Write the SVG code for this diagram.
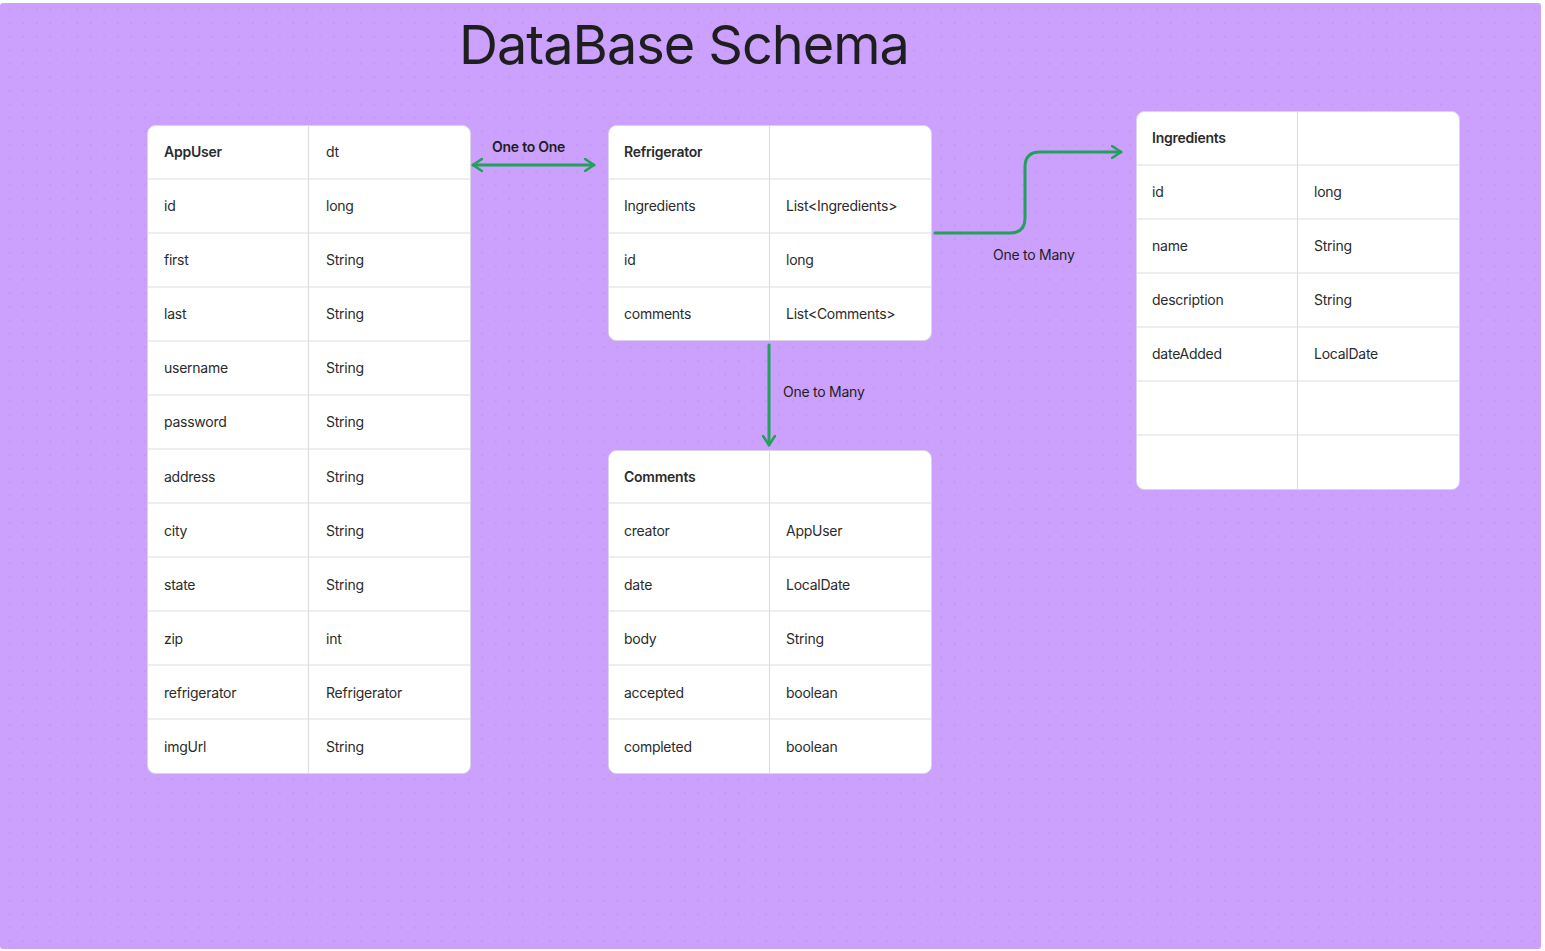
<svg xmlns="http://www.w3.org/2000/svg" width="1545" height="951" viewBox="0 0 1545 951">
<style>
text{font-family:Inter,"Noto Sans","Liberation Sans",sans-serif;fill:#2b2b2b;font-size:14px;letter-spacing:-0.25px}
.h{font-weight:600}
.t{font-size:54px;fill:#1e1e1e;letter-spacing:-1px}
.lbl{font-size:14px;fill:#1e1e1e}
.card{fill:#fff;stroke:#dcd3e8;stroke-width:1}
.sep{stroke:#dedede;stroke-width:1.2}
.con{fill:none;stroke:#23a15c;stroke-width:3;stroke-linecap:round;stroke-linejoin:round}
</style>
<defs>
<pattern id="dots" width="13.5" height="13.5" patternUnits="userSpaceOnUse" x="3" y="3">
<circle cx="6.75" cy="6.75" r="0.75" fill="#b28ade"/>
</pattern>
<marker id="arr" viewBox="0 0 12 14" refX="10" refY="7" markerWidth="12" markerHeight="14" markerUnits="userSpaceOnUse" orient="auto-start-reverse">
<path d="M1,1 L10,7 L1,13" fill="none" stroke="#23a15c" stroke-width="2.6" stroke-linecap="round" stroke-linejoin="round"/>
</marker>
</defs>
<rect width="1545" height="951" fill="#ffffff"/>
<rect x="0" y="3" width="1541" height="946" rx="3" fill="#cba1fd"/>
<rect x="0" y="3" width="1541" height="946" rx="3" fill="url(#dots)"/>
<text class="t" x="459" y="64">DataBase Schema</text>

<g id="connectors">
<line class="con" x1="473" y1="165" x2="594" y2="165" marker-start="url(#arr)" marker-end="url(#arr)"/>
<text class="lbl h" x="492" y="152">One to One</text>
<path class="con" d="M935,233 H1010 Q1025,233 1025,218 V167 Q1025,152 1040,152 H1121" marker-end="url(#arr)"/>
<text class="lbl" x="993" y="260">One to Many</text>
<line class="con" x1="769" y1="345" x2="769" y2="445" marker-end="url(#arr)"/>
<text class="lbl" x="783" y="397">One to Many</text>
</g>

<g id="appuser">
<rect class="card" x="147.5" y="125.5" width="323" height="648" rx="8"/>
<g class="sep">
<line x1="308.5" y1="126" x2="308.5" y2="773"/>
<line x1="148" y1="179" x2="470" y2="179"/>
<line x1="148" y1="233" x2="470" y2="233"/>
<line x1="148" y1="287" x2="470" y2="287"/>
<line x1="148" y1="341" x2="470" y2="341"/>
<line x1="148" y1="395" x2="470" y2="395"/>
<line x1="148" y1="449" x2="470" y2="449"/>
<line x1="148" y1="503" x2="470" y2="503"/>
<line x1="148" y1="557" x2="470" y2="557"/>
<line x1="148" y1="611" x2="470" y2="611"/>
<line x1="148" y1="665" x2="470" y2="665"/>
<line x1="148" y1="719" x2="470" y2="719"/>
</g>
<text class="h" x="164" y="157">AppUser</text><text x="326" y="157">dt</text>
<text x="164" y="211">id</text><text x="326" y="211">long</text>
<text x="164" y="265">first</text><text x="326" y="265">String</text>
<text x="164" y="319">last</text><text x="326" y="319">String</text>
<text x="164" y="373">username</text><text x="326" y="373">String</text>
<text x="164" y="427">password</text><text x="326" y="427">String</text>
<text x="164" y="482">address</text><text x="326" y="482">String</text>
<text x="164" y="536">city</text><text x="326" y="536">String</text>
<text x="164" y="590">state</text><text x="326" y="590">String</text>
<text x="164" y="644">zip</text><text x="326" y="644">int</text>
<text x="164" y="698">refrigerator</text><text x="326" y="698">Refrigerator</text>
<text x="164" y="752">imgUrl</text><text x="326" y="752">String</text>
</g>

<g id="refrigerator">
<rect class="card" x="608.5" y="125.5" width="323" height="215" rx="8"/>
<g class="sep">
<line x1="769.5" y1="126" x2="769.5" y2="340"/>
<line x1="609" y1="179" x2="931" y2="179"/>
<line x1="609" y1="233" x2="931" y2="233"/>
<line x1="609" y1="287" x2="931" y2="287"/>
</g>
<text class="h" x="624" y="157">Refrigerator</text>
<text x="624" y="211">Ingredients</text><text x="786" y="211">List&lt;Ingredients&gt;</text>
<text x="624" y="265">id</text><text x="786" y="265">long</text>
<text x="624" y="319">comments</text><text x="786" y="319">List&lt;Comments&gt;</text>
</g>

<g id="comments">
<rect class="card" x="608.5" y="450.5" width="323" height="323" rx="8"/>
<g class="sep">
<line x1="769.5" y1="451" x2="769.5" y2="773"/>
<line x1="609" y1="503" x2="931" y2="503"/>
<line x1="609" y1="557" x2="931" y2="557"/>
<line x1="609" y1="611" x2="931" y2="611"/>
<line x1="609" y1="665" x2="931" y2="665"/>
<line x1="609" y1="719" x2="931" y2="719"/>
</g>
<text class="h" x="624" y="482">Comments</text>
<text x="624" y="536">creator</text><text x="786" y="536">AppUser</text>
<text x="624" y="590">date</text><text x="786" y="590">LocalDate</text>
<text x="624" y="644">body</text><text x="786" y="644">String</text>
<text x="624" y="698">accepted</text><text x="786" y="698">boolean</text>
<text x="624" y="752">completed</text><text x="786" y="752">boolean</text>
</g>

<g id="ingredients">
<rect class="card" x="1136.5" y="111.5" width="323" height="378" rx="8"/>
<g class="sep">
<line x1="1297.5" y1="112" x2="1297.5" y2="489"/>
<line x1="1137" y1="165" x2="1459" y2="165"/>
<line x1="1137" y1="219" x2="1459" y2="219"/>
<line x1="1137" y1="273" x2="1459" y2="273"/>
<line x1="1137" y1="327" x2="1459" y2="327"/>
<line x1="1137" y1="381" x2="1459" y2="381"/>
<line x1="1137" y1="435" x2="1459" y2="435"/>
</g>
<text class="h" x="1152" y="143">Ingredients</text>
<text x="1152" y="197">id</text><text x="1314" y="197">long</text>
<text x="1152" y="251">name</text><text x="1314" y="251">String</text>
<text x="1152" y="305">description</text><text x="1314" y="305">String</text>
<text x="1152" y="359">dateAdded</text><text x="1314" y="359">LocalDate</text>
</g>
</svg>
